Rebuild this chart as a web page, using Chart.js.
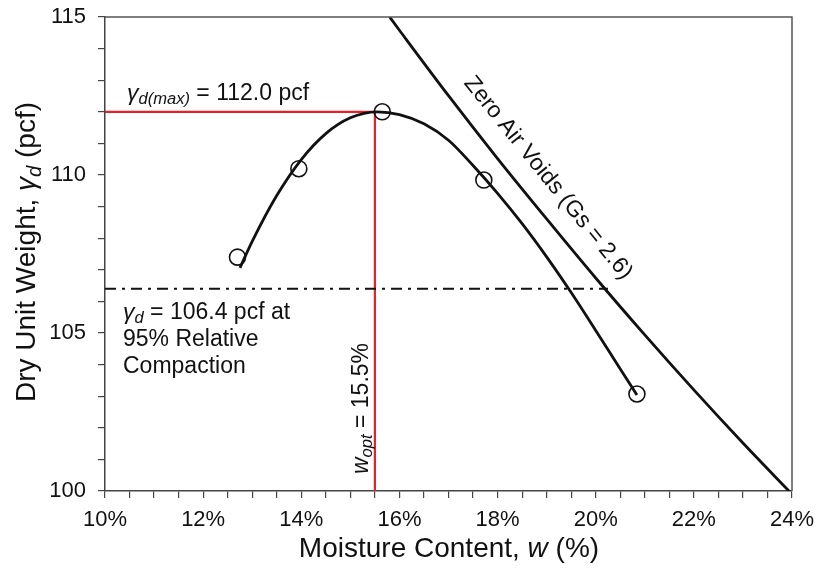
<!DOCTYPE html>
<html>
<head>
<meta charset="utf-8">
<script src="https://cdn.jsdelivr.net/npm/chart.js@4.4.1/dist/chart.umd.min.js"></script>
<style>
  html, body { margin: 0; padding: 0; background: #fff; }
</style>
</head>
<body>
<canvas id="proctorChart" width="817" height="574"></canvas>
<script>
// compaction test points: moisture content (%) / dry unit weight (pcf)
const testW = [12.7, 13.95, 15.65, 17.72, 20.84];
const testGamma = [107.4, 110.2, 112.0, 109.84, 103.07];

// fitted compaction curve
const curveW = [12.75, 13.0, 13.5, 14.0, 14.5, 15.0, 15.55, 16.0, 16.5, 17.0, 17.5, 18.0, 18.5, 19.0, 19.5, 20.0, 20.5, 20.84];
const curveGamma = [107.06, 107.9, 109.35, 110.49, 111.31, 111.81, 112.0, 111.91, 111.62, 111.1, 110.3, 109.42, 108.46, 107.41, 106.28, 105.08, 103.86, 103.04];

// zero air voids line (Gs = 2.6)
const zavW = [15.8, 16, 17, 18, 19, 20, 21, 22, 23, 24];
const zavGamma = [115.0, 114.58, 112.51, 110.52, 108.61, 106.74, 104.94, 103.2, 101.52, 99.9];

const maxDryGamma = 112.0;
const optimumW = 15.5;
const relCompGamma = 106.4;
const relCompEndW = 20.25;

const xLabelValues = [10, 12, 14, 16, 18, 20, 22, 24];
const yLabelValues = [100, 105, 110, 115];

const FONT = '"Liberation Sans", Arial, sans-serif';
const INK = '#111';
const RED = '#e8202a';

function toXY(xs, ys) {
    return xs.map((x, i) => ({ x: x, y: ys[i] }));
}

// text with italic / subscript parts, e.g. [['γ','i'],['d','s']]
function richWidth(ctx, parts, size) {
    let w = 0;
    for (const [txt, kind] of parts) {
        const fs = kind === 's' ? size * 0.72 : size;
        ctx.font = (kind === 'n' ? '' : 'italic ') + fs + 'px ' + FONT;
        w += ctx.measureText(txt).width;
    }
    return w;
}

function drawRich(ctx, parts, x, y, size) {
    let cx = x;
    for (const [txt, kind] of parts) {
        const fs = kind === 's' ? size * 0.72 : size;
        ctx.font = (kind === 'n' ? '' : 'italic ') + fs + 'px ' + FONT;
        ctx.fillText(txt, cx, kind === 's' ? y + size * 0.2 : y);
        cx += ctx.measureText(txt).width;
    }
}

const framePlugin = {
    id: 'frame',
    afterDraw(chart) {
        const { ctx, chartArea: a } = chart;
        ctx.save();
        ctx.strokeStyle = '#555';
        ctx.lineWidth = 1.5;
        ctx.beginPath();
        ctx.moveTo(a.left, a.top);
        ctx.lineTo(a.right, a.top);
        ctx.lineTo(a.right, a.bottom);
        ctx.stroke();
        ctx.restore();
    }
};

const labelPlugin = {
    id: 'labels',
    afterDraw(chart) {
        const { ctx, scales: { x, y } } = chart;
        ctx.save();
        ctx.fillStyle = INK;
        ctx.textAlign = 'left';
        ctx.textBaseline = 'alphabetic';

        // axis titles
        const xt = [['Moisture Content, ', 'n'], ['w', 'i'], [' (%)', 'n']];
        const xw = richWidth(ctx, xt, 28);
        drawRich(ctx, xt, 449 - xw / 2, 557, 28);

        const yt = [['Dry Unit Weight, ', 'n'], ['γ', 'i'], ['d', 's'], [' (pcf)', 'n']];
        const yw = richWidth(ctx, yt, 28);
        ctx.save();
        ctx.translate(35, 252);
        ctx.rotate(-Math.PI / 2);
        drawRich(ctx, yt, -yw / 2, 0, 28);
        ctx.restore();

        // max dry unit weight
        drawRich(ctx, [['γ', 'i'], ['d(max)', 's'], [' = 112.0 pcf', 'n']],
            x.getPixelForValue(10) + 22, y.getPixelForValue(maxDryGamma) - 12, 23);

        // 95 % relative compaction
        const lx = x.getPixelForValue(10) + 18;
        const ly = y.getPixelForValue(relCompGamma) + 30;
        drawRich(ctx, [['γ', 'i'], ['d', 's'], [' = 106.4 pcf at', 'n']], lx, ly, 23);
        drawRich(ctx, [['95% Relative', 'n']], lx, ly + 27, 23);
        drawRich(ctx, [['Compaction', 'n']], lx, ly + 54, 23);

        // optimum moisture content
        ctx.save();
        ctx.translate(x.getPixelForValue(optimumW) - 7, y.getPixelForValue(100) - 17);
        ctx.rotate(-Math.PI / 2);
        drawRich(ctx, [['w', 'i'], ['opt', 's'], [' = 15.5%', 'n']], 0, 0, 23);
        ctx.restore();

        // zero air voids label, parallel to the line
        const p1 = { x: x.getPixelForValue(17), y: y.getPixelForValue(112.51) };
        const p2 = { x: x.getPixelForValue(20), y: y.getPixelForValue(106.74) };
        const ang = Math.atan2(p2.y - p1.y, p2.x - p1.x);
        ctx.save();
        ctx.translate(548, 178);
        ctx.rotate(ang);
        ctx.font = '23px ' + FONT;
        ctx.textAlign = 'center';
        ctx.textBaseline = 'middle';
        ctx.fillText('Zero Air Voids (Gs = 2.6)', 0, 0);
        ctx.restore();

        ctx.restore();
    }
};

const ctx = document.getElementById('proctorChart').getContext('2d');

const proctorChart = new Chart(ctx, {
    type: 'scatter',
    data: {
        datasets: [
            {
                label: 'Test points',
                data: toXY(testW, testGamma),
                pointRadius: 8,
                pointBorderWidth: 1.6,
                borderColor: INK,
                backgroundColor: 'rgba(0,0,0,0)',
                showLine: false
            },
            {
                label: 'Compaction curve',
                data: toXY(curveW, curveGamma),
                showLine: true,
                borderColor: INK,
                borderWidth: 2.8,
                pointRadius: 0,
                cubicInterpolationMode: 'monotone'
            },
            {
                label: 'Zero air voids',
                data: toXY(zavW, zavGamma),
                showLine: true,
                borderColor: INK,
                borderWidth: 2.8,
                pointRadius: 0,
                cubicInterpolationMode: 'monotone'
            },
            {
                label: '95% relative compaction',
                data: [{ x: 10, y: relCompGamma }, { x: relCompEndW, y: relCompGamma }],
                showLine: true,
                borderColor: INK,
                borderWidth: 2,
                borderDash: [11, 6, 3, 6],
                pointRadius: 0
            },
            {
                label: 'Max / optimum',
                data: [{ x: 10, y: maxDryGamma }, { x: optimumW, y: maxDryGamma }, { x: optimumW, y: 100 }],
                showLine: true,
                borderColor: RED,
                borderWidth: 2.2,
                pointRadius: 0
            }
        ]
    },
    options: {
        responsive: false,
        animation: false,
        layout: {
            padding: { top: 17, right: 25, left: 0, bottom: 0 }
        },
        plugins: {
            legend: { display: false },
            tooltip: { enabled: false }
        },
        scales: {
            x: {
                type: 'linear',
                min: 10,
                max: 24,
                afterFit: (s) => { s.height = 83; s.paddingLeft = 0; s.paddingRight = 0; },
                ticks: {
                    stepSize: 0.5,
                    autoSkip: false,
                    maxRotation: 0,
                    padding: 9,
                    color: INK,
                    font: { size: 22, family: FONT },
                    callback: (v) => xLabelValues.includes(Math.round(v * 10) / 10) ? Math.round(v) + '%' : ''
                },
                grid: { drawOnChartArea: false, tickLength: 7, color: '#444', lineWidth: 1.2 },
                border: { color: '#444', width: 1.5 }
            },
            y: {
                min: 100,
                max: 115,
                afterFit: (s) => { s.width = 105; s.paddingTop = 0; s.paddingBottom = 0; },
                ticks: {
                    stepSize: 1,
                    autoSkip: false,
                    padding: 12,
                    color: INK,
                    font: { size: 22, family: FONT },
                    callback: (v) => yLabelValues.includes(Math.round(v)) ? String(Math.round(v)) : ''
                },
                grid: { drawOnChartArea: false, tickLength: 7, color: '#444', lineWidth: 1.2 },
                border: { color: '#444', width: 1.5 }
            }
        }
    },
    plugins: [framePlugin, labelPlugin]
});
</script>
</body>
</html>
